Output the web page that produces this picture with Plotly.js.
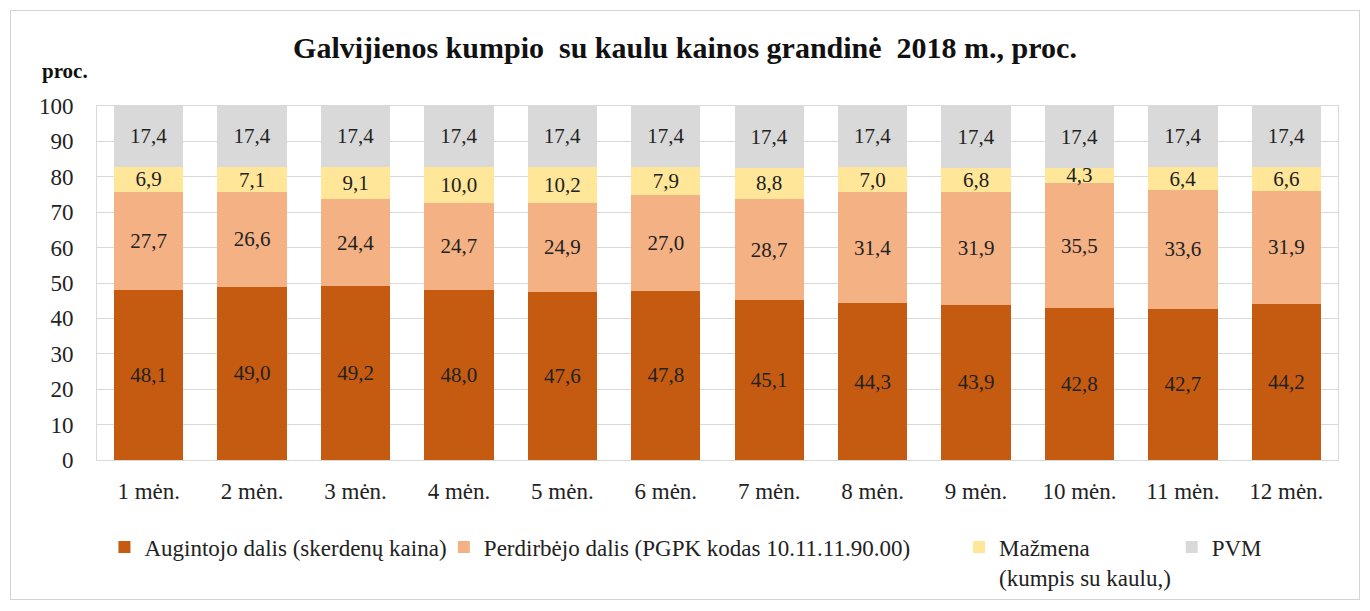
<!DOCTYPE html>
<html><head><meta charset="utf-8">
<script src="https://cdn.plot.ly/plotly-3.0.1.min.js"></script>
<style>
body{margin:0;background:#fff;}
#frame{position:absolute;left:10px;top:10px;width:1348px;height:588px;border:1px solid #d4d4d4;pointer-events:none;}
#chart{width:1370px;height:611px;}
</style></head>
<body>
<div id="chart"></div>
<div id="frame"></div>
<script>
const months = ["1 mėn.","2 mėn.","3 mėn.","4 mėn.","5 mėn.","6 mėn.","7 mėn.","8 mėn.","9 mėn.","10 mėn.","11 mėn.","12 mėn."];
const augintojo = [48.1,49.0,49.2,48.0,47.6,47.8,45.1,44.3,43.9,42.8,42.7,44.2];
const perdirbejo = [27.7,26.6,24.4,24.7,24.9,27.0,28.7,31.4,31.9,35.5,33.6,31.9];
const mazmena = [6.9,7.1,9.1,10.0,10.2,7.9,8.8,7.0,6.8,4.3,6.4,6.6];
const pvm = [17.4,17.4,17.4,17.4,17.4,17.4,17.4,17.4,17.4,17.4,17.4,17.4];
const names = ["Augintojo dalis (skerdenų kaina)","Perdirbėjo dalis (PGPK kodas 10.11.11.90.00)","Mažmena<br>(kumpis su kaulu,)","PVM"];
const colors = ["#C55A11","#F4B183","#FFE699","#D9D9D9"];
const series = [augintojo, perdirbejo, mazmena, pvm];
const fmt = v => v.toFixed(1).replace('.', ',');
const legendIds = ["legend","legend2","legend3","legend4"];
const FAM = '"Liberation Serif", "Times New Roman", Times, serif';
const F = (size, color) => ({family:FAM, size:size||17, color:color||'#222'});
const traces = series.map((vals,i)=>({
  type:'bar', x:months, y:vals, name:names[i],
  marker:{color:colors[i]},
  text:vals.map(fmt), textposition:'inside', insidetextanchor:'middle',
  textangle:0, constraintext:'none',
  textfont:F(21),
  insidetextfont:F(21),
  hoverinfo:'y+name', legend:legendIds[i]
}));
const legendX = [0.006, 0.2795, 0.6946, 0.866];
const layout = {
  width:1370, height:611,
  margin:{l:97,r:32,t:106,b:149},
  barmode:'stack', bargap:0.33,
  paper_bgcolor:'#fff', plot_bgcolor:'#fff',
  font:F(22),
  title:{text:'<b>Galvijienos kumpio  su kaulu kainos grandinė  2018 m., proc.</b>', x:0.5, xanchor:'center', y:0.922, yanchor:'middle', font:F(30,'#111')},
  xaxis:{type:'category', showgrid:false, tickfont:F(23), ticks:'', showline:true, linecolor:'#D9D9D9', mirror:true, ticklabelstandoff:10},
  yaxis:{range:[0,100], dtick:10, tick0:0, showgrid:true, gridcolor:'#D9D9D9', tickfont:F(23), showline:true, linecolor:'#D9D9D9', mirror:true, ticklabelstandoff:18, zeroline:false},
  annotations:[{text:'<b>proc.</b>', xref:'paper', yref:'paper', x:-0.026, y:1.10, xanchor:'center', yanchor:'middle', showarrow:false, font:F(21,'#111')}],
  showlegend:true
};
legendIds.forEach((id,i)=>{
  layout[id] = {orientation:'h', x:legendX[i], y:-0.185, xanchor:'left', yanchor:'top', font:F(23), bgcolor:'rgba(0,0,0,0)', itemwidth:30, valign:'top'};
});
Plotly.newPlot('chart', traces, layout, {displayModeBar:false});
</script>
</body></html>
